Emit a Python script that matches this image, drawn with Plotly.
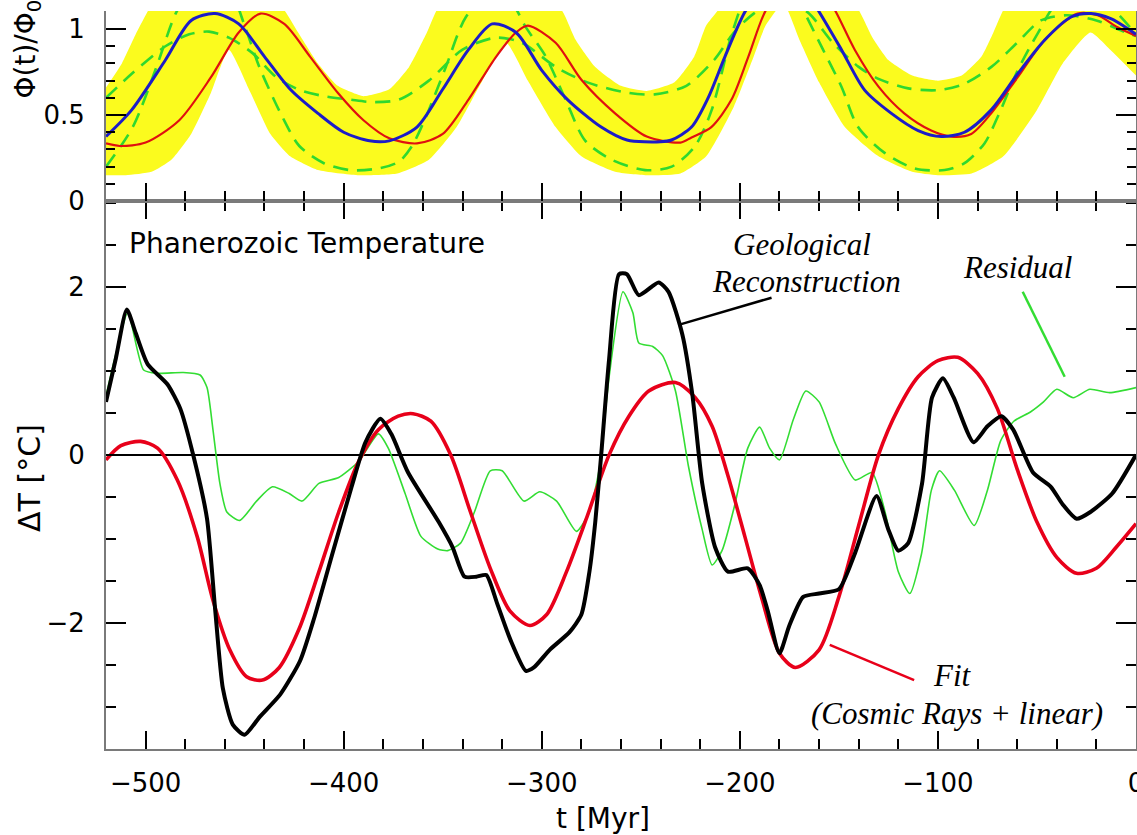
import plotly.graph_objects as go

# ---------------- data ----------------
# bottom panel: Phanerozoic temperature
geo_t = [-520, -515, -509.5, -505, -499, -489, -482.5, -476, -469, -465, -461, -456, -450, -442.5,
         -432, -422, -415, -406, -396, -389, -381.5, -376, -367.5, -352, -345, -339, -333, -328,
         -322.5, -316, -308, -304, -296, -286, -280, -276, -273, -270, -266, -261, -257, -251,
         -241, -236, -229, -224, -219, -212.5, -206, -196, -190, -186, -180, -175, -168, -160,
         -150, -142, -131, -125, -120, -115, -108, -103, -97.5, -92, -82, -75, -68, -62, -52,
         -43, -37, -30, -23, -12, 0]
geo_dT = [0.63, 1.15, 1.73, 1.45, 1.08, 0.84, 0.55, 0.0, -0.76, -1.81, -2.78, -3.21, -3.33, -3.12,
          -2.85, -2.45, -1.95, -1.2, -0.38, 0.15, 0.43, 0.25, -0.21, -0.8, -1.1, -1.45, -1.45, -1.43,
          -1.77, -2.19, -2.57, -2.53, -2.32, -2.11, -1.9, -1.4, -0.8, 0.0, 1.14, 2.15, 2.15, 1.9,
          2.05, 1.94, 1.43, 0.72, -0.34, -1.10, -1.39, -1.35, -1.55, -1.85, -2.36, -2.03, -1.69, -1.65,
          -1.60, -1.18, -0.49, -0.89, -1.14, -1.05, -0.34, 0.68, 0.91, 0.68, 0.15, 0.34, 0.46, 0.30, -0.21,
          -0.38, -0.59, -0.76, -0.68, -0.46, 0.0]

fit_t = [-520, -512.5, -502.5, -494, -484, -474, -466, -457.5, -449, -441, -432.5, -422.5, -412.5,
         -402.5, -392.5, -382.5, -372.5, -365, -356, -346, -336, -326, -316, -306, -297.5, -287.5,
         -277.5, -266, -256, -246, -232.5, -222.5, -214, -206, -197.5, -189, -180, -172, -160, -150,
         -140, -130, -120, -110, -100, -90, -80, -70, -60, -50, -40, -30, -20, -10, 0]
fit_dT = [-0.06, 0.11, 0.16, 0.08, -0.30, -0.97, -1.73, -2.32, -2.64, -2.68, -2.53, -2.07, -1.39,
          -0.68, -0.08, 0.30, 0.46, 0.49, 0.40, 0.0, -0.68, -1.35, -1.86, -2.03, -1.90, -1.39,
          -0.76, 0.0, 0.46, 0.76, 0.86, 0.68, 0.34, -0.25, -0.97, -1.70, -2.36, -2.53, -2.32, -1.69,
          -0.84, 0.0, 0.55, 0.93, 1.12, 1.16, 0.97, 0.55, -0.17, -0.80, -1.22, -1.41, -1.35, -1.10, -0.82]

res_t = [-520, -515, -509, -501, -494, -481, -472.5, -469, -466, -462.5, -459, -452.5, -444, -436,
         -427.5, -421, -412.5, -402.5, -392.5, -382.5, -377.5, -369, -361, -352.5, -347.5, -341, -334,
         -326, -320, -309, -301, -292.5, -282.5, -276, -271, -266, -259, -254, -251, -244, -239,
         -232.5, -226, -219, -214, -209, -202.5, -196, -190, -185, -180, -173, -166.7, -160, -151.7,
         -141.7, -133.3, -126.7, -120, -114.2, -108.3, -103.3, -99.2, -91.7, -81.7, -75, -68.3, -61.7,
         -53.3, -46.7, -40, -31.7, -23.3, -13.3, 0]
res_dT = [0.70, 1.2, 1.69, 1.01, 0.97, 0.98, 0.95, 0.80, 0.30, -0.34, -0.68, -0.78, -0.55, -0.38,
          -0.46, -0.55, -0.34, -0.27, -0.08, 0.25, 0.08, -0.46, -0.97, -1.12, -1.14, -1.05, -0.68,
          -0.19, -0.19, -0.55, -0.44, -0.55, -0.91, -0.68, -0.17, 0.93, 1.94, 1.69, 1.33, 1.29, 1.18,
          0.76, -0.13, -0.89, -1.31, -1.14, -0.59, 0.08, 0.33, 0.08, -0.06, 0.42, 0.76, 0.63, 0.13,
          -0.30, -0.21, -0.68, -1.39, -1.65, -1.18, -0.42, -0.19, -0.42, -0.84, -0.42, 0.17, 0.40,
          0.51, 0.63, 0.78, 0.68, 0.78, 0.74, 0.80]

# top panel: cosmic ray flux Phi(t)/Phi0
band_lo_t = [-520, -510, -497, -487, -477, -467, -458, -447, -437, -427, -413, -393, -373, -357, -343,
             -330, -318, -307, -293, -280, -263, -247, -230, -217, -203, -193, -187, -178, -170, -160,
             -147, -130, -113, -100, -83, -67, -50, -37, -23, -13, 0]
band_lo = [0.15, 0.15, 0.17, 0.24, 0.39, 0.63, 0.88, 0.63, 0.39, 0.26, 0.18, 0.15, 0.16, 0.24, 0.43,
           0.70, 0.92, 0.70, 0.43, 0.26, 0.17, 0.15, 0.16, 0.26, 0.55, 0.84, 1.02, 1.15, 0.94, 0.69,
           0.43, 0.26, 0.17, 0.15, 0.16, 0.26, 0.53, 0.80, 0.98, 0.88, 0.73]
band_hi_t = [-520, -512, -505, -500, -495, -480, -465, -450, -438, -430, -423, -413, -403, -390, -377,
             -367, -358, -353, -345, -325, -305, -290, -283, -273, -260, -247, -233, -223, -217, -211,
             -200, -180, -160, -145, -140, -133, -125, -113, -100, -88, -78, -72, -67, -55, -30, 0]
band_hi = [0.66, 0.80, 0.97, 1.08, 1.18, 1.32, 1.36, 1.32, 1.2, 1.11, 0.98, 0.80, 0.67, 0.61, 0.65,
           0.78, 0.98, 1.11, 1.22, 1.3, 1.22, 1.11, 0.94, 0.78, 0.67, 0.64, 0.69, 0.84, 1.02, 1.11,
           1.3, 1.45, 1.3, 1.16, 1.11, 0.95, 0.82, 0.73, 0.70, 0.73, 0.84, 0.98, 1.11, 1.28, 1.4, 1.35]

dashA_t = [-520, -507, -490, -478, -468, -458, -446, -434, -422, -410, -397, -385, -372, -357, -340,
           -323, -310, -293, -277, -257, -243, -227, -213, -203, -193, -180, -166, -153, -140, -130,
           -115, -100, -87, -73, -60, -48, -35, -20, -5, 0]
dashA = [0.60, 0.74, 0.90, 0.97, 0.985, 0.95, 0.86, 0.72, 0.645, 0.61, 0.59, 0.575, 0.59, 0.70, 0.88,
         0.95, 0.92, 0.78, 0.69, 0.63, 0.62, 0.67, 0.82, 0.98, 1.09, 1.17, 1.10, 0.92, 0.78, 0.71,
         0.655, 0.645, 0.68, 0.78, 0.92, 1.05, 1.08, 1.05, 0.98, 0.96]

dashB_t = [-520, -506.5, -494.5, -484.4, -475, -466, -457, -450, -442.6, -431, -422.4, -410, -397, -382,
           -372, -365.5, -357, -348.4, -338.3, -325, -315, -308, -298, -288, -278, -264.6, -247.8,
           -234.4, -222.6, -214.2, -204.1, -195, -185, -175, -167, -158, -148.7, -140.3, -126.9,
           -111.8, -96.6, -86.6, -76.5, -69.8, -59.7, -49.6, -40, -25, -12, 0]
dashB = [0.20, 0.43, 0.78, 1.10, 1.25, 1.3, 1.22, 1.02, 0.78, 0.49, 0.32, 0.22, 0.18, 0.19,
         0.23, 0.32, 0.53, 0.78, 1.07, 1.22, 1.15, 1.01, 0.84, 0.59, 0.35, 0.24, 0.18,
         0.20, 0.32, 0.53, 0.97, 1.25, 1.38, 1.3, 1.09, 0.88, 0.665, 0.43, 0.28,
         0.19, 0.18, 0.22, 0.335, 0.49, 0.76, 0.975, 1.15, 1.22, 1.12, 0.97]

blue_t = [-520, -507, -490, -477, -465, -453, -440, -427, -413, -400, -387, -377, -363, -350, -337,
          -325, -313, -300, -287, -270, -257, -240, -234.5, -224.4, -216, -207.5, -197.4, -188, -178,
          -168, -160.5, -148.7, -137, -123.5, -110, -98.3, -86.6, -73.1, -59.7, -46.2, -32.8, -22.8,
          -12.7, -2.6, 0]
blue = [0.375, 0.53, 0.82, 1.05, 1.09, 1.03, 0.84, 0.65, 0.51, 0.40, 0.35, 0.35, 0.43, 0.65, 0.88,
        1.03, 0.98, 0.76, 0.59, 0.43, 0.355, 0.345, 0.355, 0.43, 0.60, 0.84, 1.10, 1.25, 1.30,
        1.24, 1.11, 0.88, 0.645, 0.51, 0.41, 0.375, 0.40, 0.53, 0.74, 0.935, 1.07, 1.09,
        1.06, 0.99, 0.97]

red_t = [-520, -513, -500, -483, -467, -453, -442, -430, -417, -403, -390, -377, -363, -350, -337,
         -323, -313, -307, -293, -280, -263, -247, -230, -224.4, -214.4, -204.2, -195.7, -187.3, -178,
         -168, -160, -152, -142, -130, -117, -103.4, -93.3, -83.2, -73.1, -59.7, -46.2, -29.5, -19.4,
         -9.3, 0]
red = [0.335, 0.32, 0.34, 0.47, 0.72, 0.98, 1.09, 1.03, 0.84, 0.63, 0.47, 0.365, 0.335, 0.39, 0.59,
       0.84, 0.98, 1.02, 0.92, 0.705, 0.51, 0.375, 0.34, 0.37, 0.43, 0.59, 0.84, 1.10, 1.25,
       1.30, 1.25, 1.11, 0.88, 0.665, 0.51, 0.41, 0.375, 0.39, 0.51, 0.72, 0.935, 1.09, 1.08,
       1.01, 0.96]

# text labels with their anchor positions (data units)
labels = [
    ("<i>Geological</i>", -168.8, 2.50),
    ("<i>Reconstruction</i>", -166.5, 2.06),
    ("<i>Residual</i>", -59.7, 2.23),
    ("<i>Fit</i>", -92.4, -2.63),
    ("<i>(Cosmic Rays + linear)</i>", -90.4, -3.08),
]
# pointer lines: (t0, y0, t1, y1, colour)
pointers = [
    (-230.5, 1.55, -184.0, 1.87, "black"),
    (-57.2, 1.94, -36.0, 0.93, "#33dd33"),
    (-154.6, -2.26, -112.0, -2.68, "#e8001a"),
]

# ---------------- figure ----------------
SANS = "DejaVu Sans"
SERIF = "Liberation Serif"
YELLOW = "#fbfb1e"
GREEN = "#2fd82f"

fig = go.Figure()

# top panel band
fig.add_trace(go.Scatter(x=band_lo_t, y=band_lo, xaxis="x2", yaxis="y2", mode="lines",
                         line=dict(width=0, color=YELLOW, shape="spline", smoothing=0.5),
                         showlegend=False, hoverinfo="skip"))
fig.add_trace(go.Scatter(x=band_hi_t, y=band_hi, xaxis="x2", yaxis="y2", mode="lines",
                         fill="tonexty", fillcolor=YELLOW,
                         line=dict(width=0, color=YELLOW, shape="spline", smoothing=0.5),
                         showlegend=False, hoverinfo="skip"))
for tt, vv in [(dashA_t, dashA), (dashB_t, dashB)]:
    fig.add_trace(go.Scatter(x=tt, y=vv, xaxis="x2", yaxis="y2", mode="lines",
                             line=dict(width=2.6, color=GREEN, dash="15px,9px", shape="spline", smoothing=0.8),
                             showlegend=False))
fig.add_trace(go.Scatter(x=red_t, y=red, xaxis="x2", yaxis="y2", mode="lines",
                         line=dict(width=2.2, color="#e01010", shape="spline", smoothing=0.8),
                         showlegend=False))
fig.add_trace(go.Scatter(x=blue_t, y=blue, xaxis="x2", yaxis="y2", mode="lines",
                         line=dict(width=3, color="#1c1cc8", shape="spline", smoothing=0.8),
                         showlegend=False))

# bottom panel
fig.add_trace(go.Scatter(x=res_t, y=res_dT, mode="lines",
                         line=dict(width=1.6, color="#33dd33", shape="spline", smoothing=0.6),
                         showlegend=False))
fig.add_trace(go.Scatter(x=fit_t, y=fit_dT, mode="lines",
                         line=dict(width=3.6, color="#e8001a", shape="spline", smoothing=0.8),
                         showlegend=False))
fig.add_trace(go.Scatter(x=geo_t, y=geo_dT, mode="lines",
                         line=dict(width=4, color="black", shape="spline", smoothing=0.6),
                         showlegend=False))

annotations = []
for txt, tx, ty in labels:
    annotations.append(dict(text=txt, x=tx, y=ty, xref="x", yref="y", showarrow=False,
                            xanchor="center", yanchor="middle",
                            font=dict(family=SERIF, size=31, color="black")))
annotations.append(dict(text="Phanerozoic Temperature", x=-509.5, y=2.52, xref="x", yref="y",
                        showarrow=False, xanchor="left", yanchor="middle",
                        font=dict(family=SANS, size=28, color="black")))
annotations.append(dict(text="t [Myr]", x=0.4825, y=-0.0935, xref="paper", yref="paper",
                        showarrow=False, xanchor="center", yanchor="middle",
                        font=dict(family=SANS, size=28, color="black")))
annotations.append(dict(text="ΔT [°C]", x=-0.075, y=0.367, xref="paper", yref="paper",
                        showarrow=False, xanchor="center", yanchor="middle", textangle=-90,
                        font=dict(family=SANS, size=30, color="black")))
annotations.append(dict(text="Φ(t)/Φ<sub>0</sub>", x=-0.076, y=0.879, xref="paper", yref="paper",
                        showarrow=False, xanchor="center", yanchor="bottom", textangle=-90,
                        font=dict(family=SANS, size=28, color="black")))

shapes = [dict(type="line", x0=a, y0=b, x1=c, y1=d, xref="x", yref="y",
               line=dict(color=col, width=2.5)) for a, b, c, d, col in pointers]

AX = "#7a7a7a"
xcommon = dict(range=[-520, 0], dtick=100, tick0=0, ticks="inside", ticklen=18, tickwidth=2,
               tickcolor="black", showline=True, linecolor=AX, linewidth=2, showgrid=False,
               zeroline=False, automargin=False,
               minor=dict(dtick=20, ticks="inside", ticklen=10, tickwidth=1.5, tickcolor="black"))

fig.update_layout(
    width=1137, height=835,
    margin=dict(l=106, r=1, t=11, b=86),
    paper_bgcolor="white", plot_bgcolor="white",
    template="none",
    showlegend=False,
    xaxis=dict(**xcommon, anchor="y", mirror="ticks",
               tickfont=dict(family=SANS, size=26, color="black"), ticklabelstandoff=10,
               ticklabeloverflow="allow"),
    xaxis2=dict(**xcommon, anchor="y2", matches="x", showticklabels=False),
    yaxis=dict(domain=[0, 0.7425], range=[-3.5, 3.02], dtick=2, tick0=0, ticks="inside",
               ticklen=20, tickwidth=2, tickcolor="black", showline=True, linecolor=AX,
               linewidth=2, mirror="ticks", showgrid=False, automargin=False,
               zeroline=True, zerolinecolor="black", zerolinewidth=1.5,
               tickfont=dict(family=SANS, size=26, color="black"), ticklabelstandoff=14,
               minor=dict(dtick=0.5, ticks="inside", ticklen=10, tickwidth=1.5, tickcolor="black")),
    yaxis2=dict(domain=[0.7425, 1], range=[0, 1.105], dtick=0.5, tick0=0, ticks="inside",
                ticklen=20, tickwidth=2, tickcolor="black", showline=True, linecolor=AX,
                linewidth=2, mirror="ticks", showgrid=False, zeroline=False, automargin=False,
                tickfont=dict(family=SANS, size=26, color="black"), ticklabelstandoff=14,
                minor=dict(dtick=0.1, ticks="inside", ticklen=9, tickwidth=1.5, tickcolor="black")),
    annotations=annotations,
    shapes=shapes,
)

fig.write_html("out.html", config={"displayModeBar": False},
               post_script="document.body.style.margin='0';document.body.style.overflow='hidden';")
